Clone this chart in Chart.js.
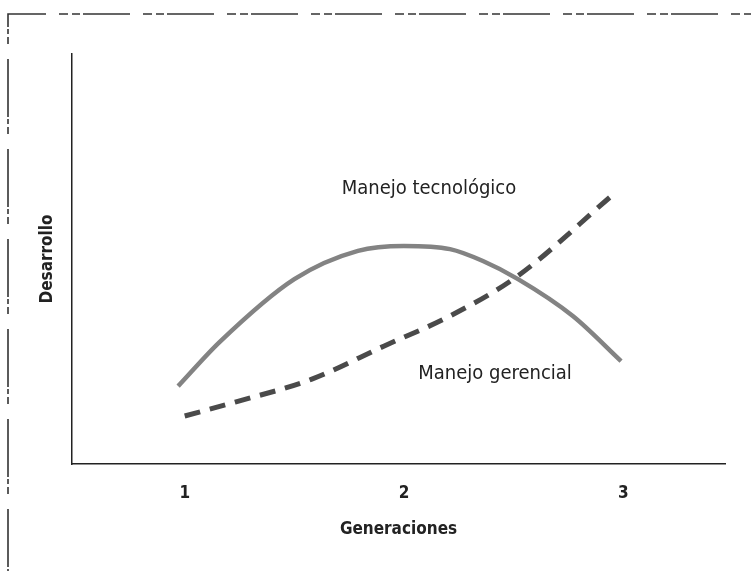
<!DOCTYPE html>
<html lang="es">
<head>
    <meta charset="UTF-8">
    <title>Desarrollo por generaciones</title>
    <style>
        html, body { margin: 0; padding: 0; background: #fff; }
        #wrap { width: 751px; height: 571px; }
    </style>
</head>
<body>
    <div id="wrap"><canvas id="myChart"></canvas></div>
    <script src="https://cdn.jsdelivr.net/npm/chart.js"></script>
    <script>
        // Data (x = generacion, y = desarrollo on a 0-100 scale)
        var xTicks = [1, 2, 3];
        var tecX = [0.97, 1.16, 1.5, 1.79, 2.0, 2.21, 2.36, 2.52, 2.77, 2.99];
        var tecY = [19.0, 29.8, 45.1, 52.0, 53.2, 52.4, 49.5, 45.1, 36.1, 25.1];
        var gerX = [1.0, 1.23, 1.58, 1.91, 2.21, 2.52, 2.94];
        var gerY = [11.7, 15.1, 20.7, 28.8, 36.1, 45.9, 65.1];

        var fontFam = "'Liberation Sans Narrow', 'DejaVu Sans Condensed', Arial, sans-serif";

        function pts(xs, ys) {
            return xs.map(function (x, i) { return {x: x, y: ys[i]}; });
        }

        // dash-dot frame and the two curve labels
        var decor = {
            id: 'decor',
            beforeDraw: function (chart) {
                var c = chart.ctx;
                c.save();
                c.strokeStyle = '#333';
                c.lineWidth = 1.6;
                // corner
                c.beginPath();
                c.moveTo(8, 27);
                c.lineTo(8, 14);
                c.lineTo(46, 14);
                c.stroke();
                // top edge
                c.setLineDash([9, 4, 8, 3, 47, 13]);
                c.beginPath();
                c.moveTo(59, 14);
                c.lineTo(751, 14);
                c.stroke();
                // left edge
                c.setLineDash([5, 3, 7, 15, 58, 2]);
                c.beginPath();
                c.moveTo(8, 29);
                c.lineTo(8, 571);
                c.stroke();
                c.restore();
            },
            afterDraw: function (chart) {
                var c = chart.ctx;
                c.save();
                c.fillStyle = '#222';
                c.font = '20px ' + fontFam;
                c.textAlign = 'center';
                c.textBaseline = 'middle';
                c.fillText('Manejo tecnológico', 429, 189);
                c.fillText('Manejo gerencial', 495, 374);
                c.restore();
            }
        };

        var ctx = document.getElementById('myChart').getContext('2d');
        var myChart = new Chart(ctx, {
            type: 'line',
            data: {
                datasets: [{
                    label: 'Manejo tecnológico',
                    data: pts(tecX, tecY),
                    borderColor: '#838383',
                    borderWidth: 4.5,
                    pointRadius: 0,
                    tension: 0.4,
                    cubicInterpolationMode: 'monotone'
                }, {
                    label: 'Manejo gerencial',
                    data: pts(gerX, gerY),
                    borderColor: '#4a4a4a',
                    borderWidth: 5,
                    borderDash: [16, 10],
                    pointRadius: 0,
                    tension: 0.4,
                    cubicInterpolationMode: 'monotone'
                }]
            },
            options: {
                responsive: true,
                maintainAspectRatio: false,
                animation: false,
                layout: { padding: { top: 54, right: 26, left: 0, bottom: 0 } },
                plugins: { legend: { display: false }, tooltip: { enabled: false } },
                scales: {
                    x: {
                        type: 'linear',
                        min: 0.486,
                        max: 3.464,
                        afterBuildTicks: function (scale) {
                            scale.ticks = xTicks.map(function (v) { return {value: v}; });
                        },
                        afterFit: function (scale) { scale.height = 107; },
                        grid: { display: false, drawTicks: false },
                        border: { color: '#222', width: 1.5 },
                        ticks: {
                            color: '#222',
                            padding: 19,
                            font: { family: fontFam, size: 17, weight: 'bold' }
                        },
                        title: {
                            display: true,
                            text: 'Generaciones',
                            color: '#222',
                            padding: { top: 0, bottom: 31 },
                            font: { family: fontFam, size: 17, weight: 'bold' }
                        }
                    },
                    y: {
                        min: 0,
                        max: 100,
                        afterFit: function (scale) { scale.width = 72; },
                        grid: { display: false, drawTicks: false },
                        border: { color: '#222', width: 1.5 },
                        ticks: { display: false },
                        title: {
                            display: true,
                            text: 'Desarrollo',
                            color: '#222',
                            padding: { top: 37, bottom: 0 },
                            font: { family: fontFam, size: 17, weight: 'bold' }
                        }
                    }
                }
            },
            plugins: [decor]
        });
    </script>
</body>
</html>
